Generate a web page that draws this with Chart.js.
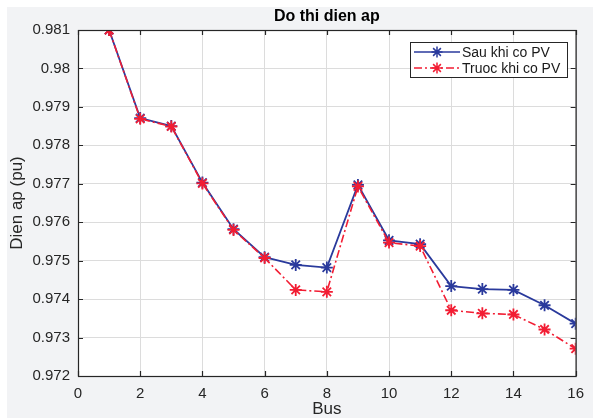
<!DOCTYPE html>
<html>
<head>
<meta charset="utf-8">
<script src="https://cdn.jsdelivr.net/npm/chart.js@4"></script>
<style>
  html, body { margin: 0; padding: 0; background: #fff; }
  #wrap { width: 593px; height: 418px; }
</style>
</head>
<body>
<div id="wrap"><canvas id="voltChart" width="593" height="418"></canvas></div>
<script>
const buses = [1, 2, 3, 4, 5, 6, 7, 8, 9, 10, 11, 12, 13, 14, 15, 16];
const sauPV = [0.98100, 0.97871, 0.97850, 0.97703, 0.97582, 0.97509, 0.97489, 0.97482, 0.97697, 0.97553, 0.97543, 0.97434, 0.97426, 0.97424, 0.97384, 0.97336];
const truocPV = [0.98100, 0.97869, 0.97849, 0.97701, 0.97580, 0.97507, 0.97424, 0.97419, 0.97693, 0.97547, 0.97538, 0.97371, 0.97363, 0.97360, 0.97321, 0.97271];
const xTicks = [0, 2, 4, 6, 8, 10, 12, 14, 16];
const yTicks = [0.972, 0.973, 0.974, 0.975, 0.976, 0.977, 0.978, 0.979, 0.98, 0.981];

const blue = '#2a3a9c';
const red = '#f21d33';
const FONT = 'Liberation Sans, Arial, sans-serif';

// figure background, box, title, axis labels, legend
const matlabLook = {
    id: 'matlabLook',
    beforeDraw(chart) {
        const c = chart.ctx, a = chart.chartArea;
        c.save();
        c.fillStyle = '#ffffff';
        c.fillRect(0, 0, chart.width, chart.height);
        c.fillStyle = '#f2f3f5';
        c.fillRect(7, 7, chart.width - 7, chart.height - 7);
        c.fillStyle = '#ffffff';
        c.fillRect(a.left, a.top, a.right - a.left, a.bottom - a.top);
        c.restore();
    },
    afterDraw(chart) {
        const c = chart.ctx, a = chart.chartArea;
        const xs = chart.scales.x, ys = chart.scales.y;
        c.save();
        // box
        c.strokeStyle = '#262626';
        c.lineWidth = 1.2;
        c.strokeRect(a.left + 0.5, a.top + 0.5, a.right - a.left, a.bottom - a.top);
        // inward ticks
        c.beginPath();
        xTicks.forEach(v => {
            const px = Math.round(xs.getPixelForValue(v)) + 0.5;
            c.moveTo(px, a.top); c.lineTo(px, a.top + 5);
            c.moveTo(px, a.bottom); c.lineTo(px, a.bottom - 5);
        });
        yTicks.forEach(v => {
            const py = Math.round(ys.getPixelForValue(v)) + 0.5;
            c.moveTo(a.left, py); c.lineTo(a.left + 5, py);
            c.moveTo(a.right, py); c.lineTo(a.right - 5, py);
        });
        c.stroke();

        const cx = (a.left + a.right) / 2;
        c.fillStyle = '#000';
        c.textAlign = 'center';
        c.textBaseline = 'middle';
        c.font = 'bold 16px ' + FONT;
        c.fillText('Do thi dien ap', cx, 17);
        c.fillStyle = '#262626';
        c.font = '17px ' + FONT;
        c.fillText('Bus', cx, 409);
        c.translate(17, (a.top + a.bottom) / 2);
        c.rotate(-Math.PI / 2);
        c.fillText('Dien ap (pu)', 0, 0);
        c.restore();

        // legend
        c.save();
        const lx = 410, ly = 42, lw = 157, lh = 35;
        c.fillStyle = '#fff';
        c.fillRect(lx, ly, lw, lh);
        c.strokeStyle = '#262626';
        c.lineWidth = 1;
        c.strokeRect(lx + 0.5, ly + 0.5, lw, lh);
        c.font = '14px ' + FONT;
        c.textAlign = 'left';
        c.textBaseline = 'middle';
        chart.data.datasets.forEach((ds, i) => {
            const y = ly + 10 + i * 16;
            c.strokeStyle = ds.borderColor;
            c.lineWidth = 1.5;
            c.setLineDash(ds.borderDash || []);
            c.beginPath();
            c.moveTo(lx + 4, y); c.lineTo(lx + 50, y);
            c.stroke();
            c.setLineDash([]);
            Chart.helpers.drawPoint(c, { pointStyle: 'star', radius: 5.5, rotation: 0, borderWidth: 1.6 }, lx + 27, y);
            c.fillStyle = '#1a1a1a';
            c.fillText(ds.label, lx + 52, y + 1);
        });
        c.restore();
    }
};

const ctx = document.getElementById('voltChart').getContext('2d');
const voltChart = new Chart(ctx, {
    type: 'line',
    data: {
        datasets: [{
            label: 'Sau khi co PV',
            data: buses.map((b, i) => ({ x: b, y: sauPV[i] })),
            borderColor: blue,
            backgroundColor: blue,
            borderWidth: 1.8,
            pointStyle: 'star',
            pointRadius: 6,
            pointBorderWidth: 1.8,
            order: 2,
            tension: 0
        }, {
            label: 'Truoc khi co PV',
            data: buses.map((b, i) => ({ x: b, y: truocPV[i] })),
            borderColor: red,
            backgroundColor: red,
            borderWidth: 1.6,
            borderDash: [8, 3, 2, 3],
            pointStyle: 'star',
            pointRadius: 6,
            pointBorderWidth: 1.8,
            order: 1,
            tension: 0
        }]
    },
    options: {
        responsive: false,
        animation: false,
        layout: { padding: { top: 30, right: 15, left: 0, bottom: 0 } },
        plugins: {
            legend: { display: false },
            title: { display: false },
            tooltip: { enabled: false }
        },
        scales: {
            x: {
                type: 'linear',
                min: 0,
                max: 16,
                afterBuildTicks: s => { s.ticks = xTicks.map(v => ({ value: v })); },
                afterFit: s => { s.height = 42; },
                ticks: { color: '#262626', font: { family: FONT, size: 15 }, padding: 9, maxRotation: 0 },
                grid: { color: '#dcdcdc', drawTicks: false },
                border: { display: false }
            },
            y: {
                min: 0.972,
                max: 0.981,
                afterBuildTicks: s => { s.ticks = yTicks.map(v => ({ value: v })); },
                afterFit: s => { s.width = 78; },
                ticks: {
                    color: '#262626',
                    font: { family: FONT, size: 15 },
                    padding: 8,
                    callback: v => String(+v.toFixed(3))
                },
                grid: { color: '#dcdcdc', drawTicks: false },
                border: { display: false }
            }
        }
    },
    plugins: [matlabLook]
});
</script>
</body>
</html>
